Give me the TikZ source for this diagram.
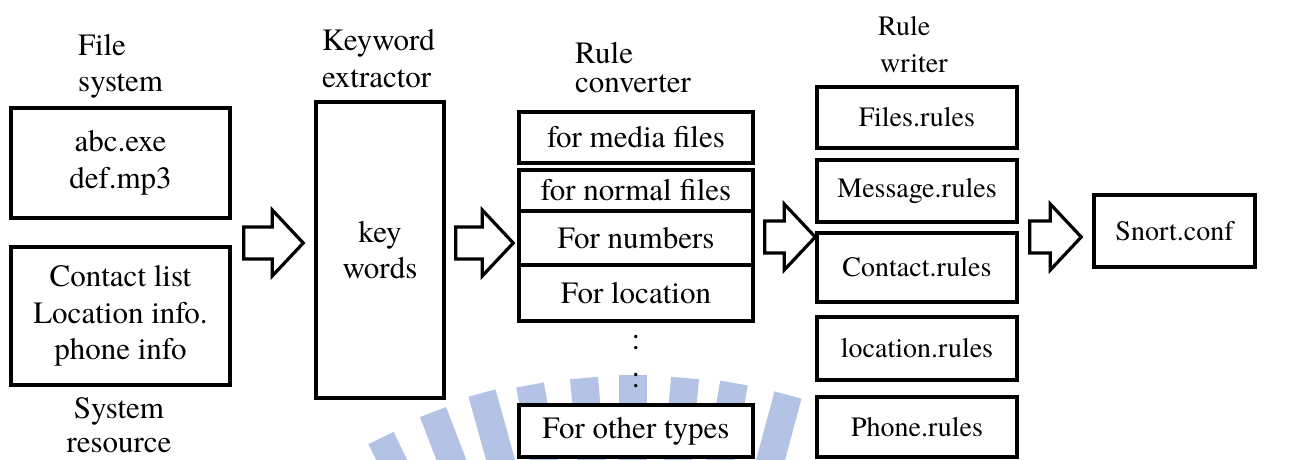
\documentclass[tikz,border=0pt]{standalone}
\usepackage{fontspec}
\setmainfont{texgyretermes}[Extension=.otf, UprightFont=*-regular, BoldFont=*-bold, ItalicFont=*-italic, BoldItalicFont=*-bolditalic]
\usetikzlibrary{calc}

\newcommand\bigtext{\rmfamily\fontsize{31}{36.5}\selectfont}
\newcommand\midtext{\rmfamily\fontsize{28}{34}\selectfont}

\definecolor{wmblue}{RGB}{180,194,229}

\tikzset{
  box/.style={draw, line width=3.5pt, fill=white, inner sep=0pt, align=center},
  cbox/.style={box, font=\bigtext, minimum width=234pt},
  wbox/.style={box, font=\midtext, minimum width=200pt},
  lbl/.style={inner sep=0pt, font=\bigtext},
  wlbl/.style={inner sep=0pt, font=\midtext},
  blockarr/.style={draw, line width=3.2pt, fill=white, line join=miter},
  wmbar/.style={fill=wmblue, draw=none}
}

% outlined block arrow from a start point to a tip at the same height
\newcommand\blockarrow[2]{%
  \draw[blockarr] let \p1=(#1), \p2=(#2) in
    (\x1,\y1+16pt) -- (\x2-31pt,\y1+16pt) -- (\x2-31pt,\y1+33pt) --
    (\x2,\y1) -- (\x2-31pt,\y1-33pt) -- (\x2-31pt,\y1-16pt) --
    (\x1,\y1-16pt) -- cycle;}

% one ray of the faint background emblem: top centre and tilt
\newcommand\wmray[3]{%
  \fill[wmbar, rotate around={-#3:(#1,#2)}]
    ($(#1,#2)+(-14,0)$) rectangle ($(#1,#2)+(14,160)$);}

\begin{document}
\begin{tikzpicture}[x=1pt, y=-1pt]
\useasboundingbox (0,0) rectangle (1314,459);

% background emblem rays
\begin{scope}
  \clip (0,0) rectangle (1314,459);
  \wmray{381}{438}{-26}
  \wmray{433}{412}{-21}
  \wmray{482}{393}{-15.5}
  \wmray{530}{385}{-10.5}
  \wmray{584}{378}{-5}
  \wmray{633}{375}{0}
  \wmray{685}{378}{5}
  \wmray{734}{383}{10}
  \wmray{788}{395}{15}
\end{scope}

% file system and system resources
\node[lbl, anchor=base west] (fsl1) at (78,55) {File};
\node[lbl, anchor=base west] (fsl2) at (78,91) {system};
\node[box, font=\bigtext, minimum width=219pt, minimum height=110pt] (fs) at (120.5,163) {abc.exe\\def.mp3};
\node[box, font=\bigtext, minimum width=219pt, minimum height=138pt] (sr) at (120.5,316) {Contact list\\Location info.\\phone info};
\node[lbl, anchor=base] (srl1) at (119,418) {System};
\node[lbl, anchor=base] (srl2) at (119,452) {resource};

% keyword extractor
\node[lbl, anchor=base west] (kwl1) at (322,50) {Keyword};
\node[lbl, anchor=base west] (kwl2) at (322,87) {extractor};
\node[box, font=\bigtext, minimum width=128pt, minimum height=296pt] (kw) at (380,250) {key\\words};

% rule converter
\node[lbl, anchor=base west] (rcl1) at (575,63) {Rule};
\node[lbl, anchor=base west] (rcl2) at (575,92) {converter};
\node[cbox, minimum height=51pt] (c1) at (636,137.5) {for media files};
\node[cbox, minimum height=41pt] (c2) at (636,190.5) {for normal files};
\node[cbox, minimum height=54pt] (c3) at (636,238) {For numbers};
\node[cbox, minimum height=56pt] (c4) at (636,293) {For location};
\node[lbl, anchor=base] (dots1) at (636,349) {:};
\node[lbl, anchor=base] (dots2) at (636,387) {:};
\node[cbox, minimum height=52pt] (c5) at (636,431) {For other types};

% rule writer
\node[wlbl, anchor=base west] (rwl1) at (878,35) {Rule};
\node[wlbl, anchor=base west] (rwl2) at (880,72) {writer};
\node[wbox, minimum height=61pt] (w1) at (917,117.5) {Files.rules};
\node[wbox, minimum height=62pt] (w2) at (917,191) {Message.rules};
\node[wbox, minimum height=69pt] (w3) at (917,267.5) {Contact.rules};
\node[wbox, minimum height=63pt] (w4) at (917,348.5) {location.rules};
\node[wbox, minimum height=60pt] (w5) at (917,427) {Phone.rules};

% snort configuration
\node[box, font=\midtext, minimum width=161pt, minimum height=72pt] (sc) at (1174.5,231) {Snort.conf};

% flow arrows between the stages
\coordinate (a1s) at ($(fs.east)+(12,0)$);
\coordinate (a1s) at (a1s |- 0,243);
\coordinate (a1t) at ($(kw.west)+(-11,0)$);
\coordinate (a1t) at (a1t |- 0,243);
\blockarrow{a1s}{a1t}

\coordinate (a2s) at ($(kw.east)+(10,0)$);
\coordinate (a2s) at (a2s |- 0,243);
\coordinate (a2t) at ($(c3.west)+(-4,0)$);
\coordinate (a2t) at (a2t |- 0,243);
\blockarrow{a2s}{a2t}

\coordinate (a3s) at ($(c3.east)+(10,0)$);
\coordinate (a3s) at (a3s |- 0,237);
\coordinate (a3t) at (w3.west |- 0,237);
\blockarrow{a3s}{a3t}

\coordinate (a4s) at ($(w3.east)+(11,0)$);
\coordinate (a4s) at (a4s |- 0,237);
\coordinate (a4t) at ($(sc.west)+(-11,0)$);
\coordinate (a4t) at (a4t |- 0,237);
\blockarrow{a4s}{a4t}
\end{tikzpicture}
\end{document}
